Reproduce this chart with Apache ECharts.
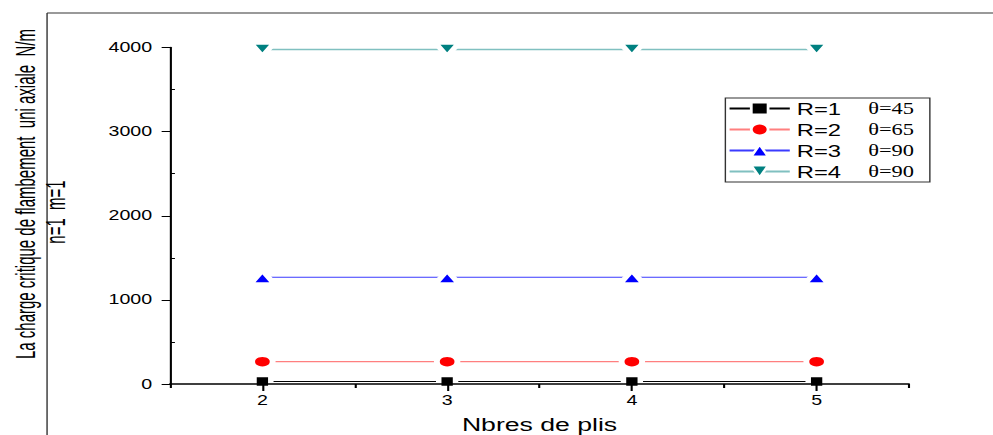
<!DOCTYPE html>
<html>
<head>
<meta charset="utf-8">
<script src="https://cdn.jsdelivr.net/npm/echarts@6/dist/echarts.min.js"></script>
<style>
  html, body { margin: 0; padding: 0; background: #fff; overflow: hidden; }
  /* the plot is laid out narrow and widened horizontally */
  #chart { width: 709px; height: 435px; transform: scaleX(1.4006); transform-origin: 0 0; }
</style>
</head>
<body>
<div id="chart"></div>
<script>
// Number of plies on the x axis
const plies = [2, 3, 4, 5];
// Critical buckling load (N/m) for each R
const loadR1 = [30, 30, 30, 30];
const loadR2 = [265, 265, 265, 265];
const loadR3 = [1270, 1270, 1270, 1270];
const loadR4 = [3975, 3975, 3975, 3975];
const seriesNames = ['R=1', 'R=2', 'R=3', 'R=4'];
const thetas = ['θ=45', 'θ=65', 'θ=90', 'θ=90'];
// axis ticks
const xLabelTicks = [2, 3, 4, 5];
const xMinorTicks = [1.5, 2.5, 3.5, 4.5, 5.5];
const yMinorTicks = [500, 1500, 2500, 3500];

const SANS = '"Liberation Sans", Arial, sans-serif';
const SERIF = '"Liberation Serif", "Times New Roman", serif';
const downTri = 'path://M0,0 L10,0 L5,10 Z';

function pairs(vals) { return plies.map((p, i) => [p, vals[i]]); }

function lineSeries(name, vals, symbol, size, fill, stroke, lw) {
  return {
    name: name,
    type: 'line',
    data: pairs(vals),
    symbol: symbol,
    symbolSize: size,
    showSymbol: true,
    itemStyle: { color: fill, borderColor: '#fff', borderWidth: 4 },
    lineStyle: { color: stroke, width: lw },
    emphasis: { disabled: true },
    z: 2
  };
}

const chart = echarts.init(document.getElementById('chart'), null, { renderer: 'svg' });
chart.setOption({
  animation: false,
  backgroundColor: '#fff',
  grid: { left: 121.4, right: 60, top: 47.5, bottom: 51, containLabel: false, outerBoundsMode: 'none' },
  xAxis: [{
    type: 'value', min: 1.5, max: 5.5, interval: 0.5, z: 3,
    name: 'Nbres de plis', nameLocation: 'middle', nameGap: 31,
    nameTextStyle: { fontFamily: SANS, fontSize: 19, color: '#000' },
    axisLine: { lineStyle: { color: '#000', width: 1.5 } },
    axisTick: { customValues: xLabelTicks, length: 7, lineStyle: { color: '#000', width: 1.5 } },
    axisLabel: { customValues: xLabelTicks, margin: 9, fontFamily: SANS, fontSize: 14, color: '#000' },
    splitLine: { show: false }
  }, {
    type: 'value', min: 1.5, max: 5.5, interval: 0.5, position: 'bottom', offset: 0,
    axisLine: { show: false },
    axisTick: { customValues: xMinorTicks, length: 4, lineStyle: { color: '#000', width: 1.5 } },
    axisLabel: { show: false },
    splitLine: { show: false }
  }],
  yAxis: [{
    type: 'value', min: 0, max: 4000, interval: 1000, position: 'left', z: 3,
    axisLine: { show: true, lineStyle: { color: '#000', width: 1.5 } },
    axisTick: { show: true, length: 6, lineStyle: { color: '#000', width: 1 } },
    axisLabel: { margin: 12.8, fontFamily: SANS, fontSize: 14, color: '#000', formatter: v => String(v) },
    splitLine: { show: false }
  }, {
    type: 'value', min: 0, max: 4000, interval: 500, position: 'left', offset: 0,
    axisLine: { show: false },
    axisTick: { show: true, inside: true, customValues: yMinorTicks, length: 3.5, lineStyle: { color: '#000', width: 1 } },
    axisLabel: { show: false },
    splitLine: { show: false }
  }],
  legend: {
    orient: 'vertical', left: 517.9, top: 98,
    padding: [0, 4, 0, 2], itemGap: 0, itemWidth: 43, itemHeight: 15,
    selectedMode: false,
    backgroundColor: '#fff', borderColor: '#333', borderWidth: 1,
    itemStyle: { borderColor: '#fff', borderWidth: 2 },
    data: seriesNames,
    formatter: function (name) {
      return '{r|' + name + '}{t|' + thetas[seriesNames.indexOf(name)] + '}';
    },
    textStyle: {
      lineHeight: 21,
      rich: {
        r: { fontFamily: SANS, fontSize: 17, color: '#000', width: 51, lineHeight: 21 },
        t: { fontFamily: SERIF, fontSize: 16, color: '#000', width: 40, lineHeight: 21 }
      }
    }
  },
  graphic: [
    { type: 'line', shape: { x1: 33.6, y1: 13, x2: 709, y2: 13 }, style: { stroke: '#777', lineWidth: 1.5 }, silent: true },
    { type: 'line', shape: { x1: 33.6, y1: 13, x2: 33.6, y2: 435 }, style: { stroke: '#333', lineWidth: 1 }, silent: true },
    {
      type: 'text', x: 17.9, y: 194, rotation: Math.PI / 2, scaleY: 1.35, silent: true,
      style: { text: 'La charge critique de flambement  uni axiale  N/m', x: 0, y: 0, align: 'center', verticalAlign: 'middle', fontFamily: SANS, fontSize: 15, fill: '#000' }
    },
    {
      type: 'text', x: 39.3, y: 212, rotation: Math.PI / 2, scaleY: 1.35, silent: true,
      style: { text: 'n=1  m=1', x: 0, y: 0, align: 'center', verticalAlign: 'middle', fontFamily: SANS, fontSize: 15, fill: '#000' }
    }
  ],
  series: [
    lineSeries(seriesNames[0], loadR1, 'rect', [12, 12.5], '#000', '#000', 1),
    lineSeries(seriesNames[1], loadR2, 'circle', [14.7, 13.3], '#ff0000', '#ff7f7f', 1.2),
    lineSeries(seriesNames[2], loadR3, 'triangle', [17, 13.5], '#0000ff', '#3b3bff', 1),
    lineSeries(seriesNames[3], loadR4, downTri, [17, 13.5], '#008080', '#80c0c0', 1.5)
  ]
});
</script>
</body>
</html>
